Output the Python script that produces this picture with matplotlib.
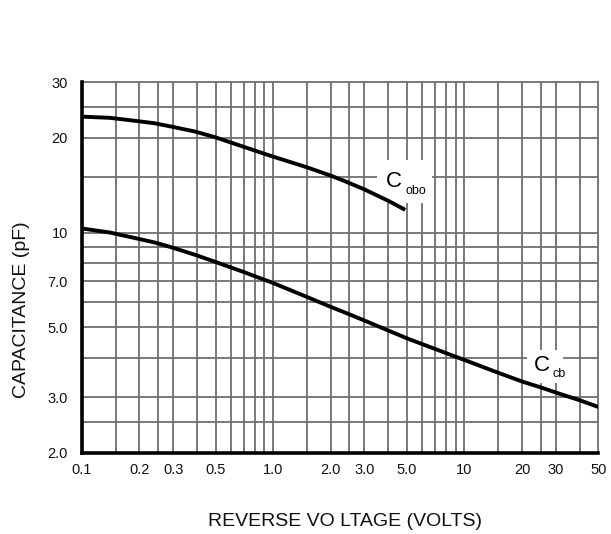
import matplotlib
matplotlib.use("Agg")
import matplotlib.pyplot as plt
from matplotlib.patches import Rectangle

plt.rcParams['font.family'] = ['Liberation Sans', 'DejaVu Sans']

# Reverse voltage (V) and capacitance (pF)
cobo_v = [0.1, 0.14, 0.19, 0.24, 0.29, 0.39, 0.49, 0.6, 0.7, 0.8, 0.97,
          1.5, 2.0, 2.4, 3.0, 4.0, 4.9]
cobo_pf = [23.3, 23.1, 22.6, 22.2, 21.7, 20.9, 20.1, 19.3, 18.7, 18.2, 17.5,
           16.1, 15.15, 14.5, 13.7, 12.6, 11.8]

ccb_v = [0.1, 0.14, 0.19, 0.24, 0.29, 0.39, 0.49, 0.6, 0.7, 0.8, 0.98,
         1.5, 2.0, 2.4, 3.0, 3.9, 5.0, 6.0, 7.2, 8.6, 10.5, 14, 20, 25, 31, 40, 50]
ccb_pf = [10.3, 10.0, 9.6, 9.3, 9.0, 8.5, 8.1, 7.75, 7.5, 7.27, 6.95,
          6.25, 5.81, 5.56, 5.26, 4.92, 4.62, 4.43, 4.25, 4.08, 3.9, 3.65, 3.37, 3.23, 3.09, 2.94, 2.80]

x_ticks = [0.1, 0.2, 0.3, 0.5, 1.0, 2.0, 3.0, 5.0, 10, 20, 30, 50]
x_tick_labels = ["0.1", "0.2", "0.3", "0.5", "1.0", "2.0", "3.0", "5.0", "10", "20", "30", "50"]
y_ticks = [2.0, 3.0, 5.0, 7.0, 10, 20, 30]
y_tick_labels = ["2.0", "3.0", "5.0", "7.0", "10", "20", "30"]

x_grid = [0.15, 0.2, 0.25, 0.3, 0.4, 0.5, 0.6, 0.7, 0.8, 0.9, 1.0,
          1.5, 2, 2.5, 3, 4, 5, 6, 7, 8, 9, 10, 15, 20, 25, 30, 40]
y_grid = [2.5, 3, 4, 5, 6, 7, 8, 9, 10, 15, 20, 25]

fig = plt.figure(figsize=(6.11, 5.34), dpi=100)
ax = fig.add_axes([0.134, 0.1517, 0.845, 0.6947])
ax.set_xscale('log')
ax.set_yscale('log')
ax.set_xlim(0.1, 50)
ax.set_ylim(2.0, 30)

grid_kw = dict(color='#6e6e6e', lw=1.3, zorder=1)
for gx in x_grid:
    ax.axvline(gx, **grid_kw)
for gy in y_grid:
    ax.axhline(gy, **grid_kw)

ax.plot(cobo_v, cobo_pf, color='black', lw=2.8, solid_capstyle='butt',
        solid_joinstyle='round', zorder=4)
ax.plot(ccb_v, ccb_pf, color='black', lw=2.8, solid_capstyle='butt',
        solid_joinstyle='round', zorder=4)

# White patches behind the curve labels
ax.add_patch(Rectangle((0.572, 0.674), 0.106, 0.116, transform=ax.transAxes,
                       facecolor='white', edgecolor='none', zorder=2))
ax.add_patch(Rectangle((0.862, 0.189), 0.070, 0.089, transform=ax.transAxes,
                       facecolor='white', edgecolor='none', zorder=2))

ax.text(0.604, 0.732, "C", transform=ax.transAxes, fontsize=16,
        ha='center', va='center', zorder=5)
ax.text(0.626, 0.7075, "obo", transform=ax.transAxes, fontsize=9,
        ha='left', va='center', zorder=5)
ax.text(0.891, 0.236, "C", transform=ax.transAxes, fontsize=16,
        ha='center', va='center', zorder=5)
ax.text(0.911, 0.213, "cb", transform=ax.transAxes, fontsize=9,
        ha='left', va='center', zorder=5)

ax.set_xticks(x_ticks)
ax.set_xticklabels(x_tick_labels)
ax.set_yticks(y_ticks)
ax.set_yticklabels(y_tick_labels)
ax.minorticks_off()
ax.tick_params(axis='both', length=0, labelsize=10.5, colors='#111111')
ax.tick_params(axis='x', pad=7)
ax.tick_params(axis='y', pad=10)

for side in ('left', 'bottom'):
    ax.spines[side].set_linewidth(2.6)
    ax.spines[side].set_color('black')
    ax.spines[side].set_zorder(6)
for side in ('top', 'right'):
    ax.spines[side].set_linewidth(1.3)
    ax.spines[side].set_color('#6e6e6e')

fig.text(0.565, 0.0243, "REVERSE VO LTAGE (VOLTS)", ha='center', va='center',
         fontsize=14, color='#111111')
fig.text(0.035, 0.4195, "CAPACITANCE (pF)", ha='center', va='center',
         rotation=90, fontsize=14, color='#111111')

fig.savefig("out.png", dpi=100, facecolor='white')
